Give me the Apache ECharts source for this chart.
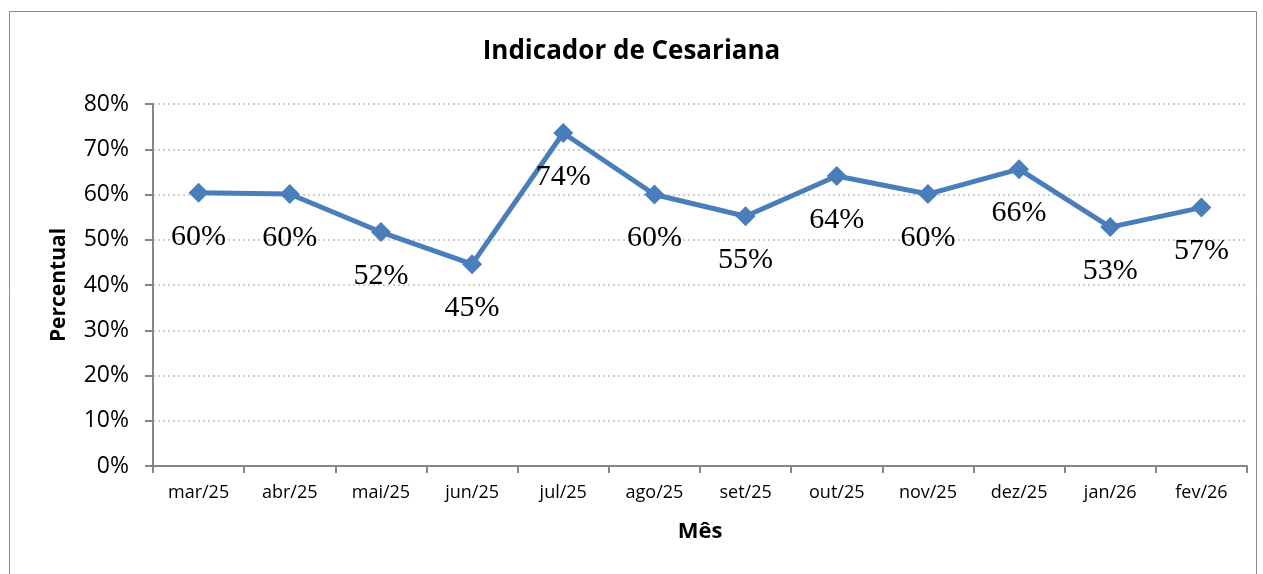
<!DOCTYPE html>
<html>
<head>
<meta charset="utf-8">
<script src="https://cdn.jsdelivr.net/npm/echarts@6/dist/echarts.min.js"></script>
<style>
html,body{margin:0;padding:0;background:#fff;}
#c{width:1263px;height:574px;}
</style>
</head>
<body>
<div id="c"></div>
<script>
const categories = ['mar/25','abr/25','mai/25','jun/25','jul/25','ago/25','set/25','out/25','nov/25','dez/25','jan/26','fev/26'];
const values = [60.4, 60.1, 51.7, 44.6, 73.6, 60.0, 55.2, 64.1, 60.1, 65.6, 52.8, 57.1];
const yTicks = [0, 10, 20, 30, 40, 50, 60, 70, 80];

const chart = echarts.init(document.getElementById('c'));
chart.setOption({
  animation: false,
  backgroundColor: '#ffffff',
  graphic: [{
    type: 'rect',
    shape: {x: 9.5, y: 11.5, width: 1247, height: 600},
    style: {fill: 'none', stroke: '#8a8a8a', lineWidth: 1},
    silent: true, z: 0
  }],
  title: {
    text: 'Indicador de Cesariana',
    left: 'center',
    top: 34,
    textStyle: {fontFamily: 'Open Sans', fontWeight: 'bold', fontSize: 26, color: '#000'}
  },
  grid: {left: 153, right: 16, top: 104, bottom: 108, containLabel: false},
  xAxis: {
    type: 'category',
    data: categories,
    boundaryGap: true,
    name: 'Mês',
    nameLocation: 'middle',
    nameGap: 55,
    nameTextStyle: {fontFamily: 'Open Sans', fontWeight: 'bold', fontSize: 22, color: '#000'},
    axisLine: {lineStyle: {color: '#868686', width: 2}},
    axisTick: {show: true, length: 7, alignWithLabel: false, lineStyle: {color: '#868686', width: 2}},
    axisLabel: {fontFamily: 'Open Sans', fontSize: 18, color: '#000', margin: 18}
  },
  yAxis: {
    type: 'value',
    min: yTicks[0],
    max: yTicks[yTicks.length - 1],
    interval: 10,
    name: 'Percentual',
    nameLocation: 'middle',
    nameGap: 83,
    nameTextStyle: {fontFamily: 'Open Sans', fontWeight: 'bold', fontSize: 21, color: '#000'},
    axisLine: {show: true, lineStyle: {color: '#868686', width: 2}},
    axisTick: {show: true, length: 8, lineStyle: {color: '#868686', width: 2}},
    axisLabel: {fontFamily: 'Open Sans', fontSize: 23, color: '#000', margin: 24, formatter: v => v + '%'},
    splitLine: {show: true, lineStyle: {color: '#bdbdbd', type: [2, 3], width: 1.5}}
  },
  series: [{
    type: 'line',
    data: values,
    symbol: 'diamond',
    symbolSize: 20,
    lineStyle: {color: '#4a7ebb', width: 5},
    itemStyle: {color: '#4a7ebb'},
    label: {
      show: true,
      position: 'bottom',
      distance: 19,
      fontFamily: 'Liberation Serif',
      fontSize: 30,
      color: '#000',
      formatter: p => Math.round(p.value) + '%'
    }
  }]
});
</script>
</body>
</html>
